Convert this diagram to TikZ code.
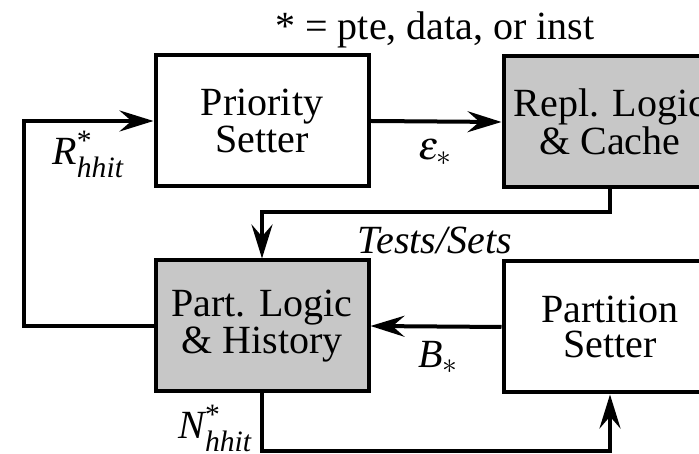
\documentclass[tikz,border=0pt]{standalone}
\usepackage{mathptmx}
\usepackage{amstext}
\usepackage{fontspec}
\setmainfont{Liberation Serif}
\usetikzlibrary{arrows.meta}
% italic text letters inside math, so that symbols share the serif face
\newcommand{\ti}[1]{\textit{#1}}
\begin{document}
\begin{tikzpicture}[x=1pt,y=1pt,
  blk/.style={draw, line width=4pt, minimum width=213pt, minimum height=131pt,
    inner sep=0pt, align=center, font=\rmfamily\fontsize{40}{35}\selectfont},
  shaded/.style={blk, fill=black!22},
  conn/.style={line width=4pt, -{Stealth[length=34pt,width=21pt,inset=12pt]}},
  lbl/.style={font=\rmfamily\fontsize{40}{40}\selectfont, inner sep=0pt}]
\useasboundingbox (0,0) rectangle (699,454);
\clip (0,0) rectangle (699,454);

% blocks
\node[blk]    (ps) at (262,333) {Priority\\Setter};
\node[shaded] (rc) at (610,332) {Repl. Logic\\\& Cache};
\node[shaded] (pl) at (262,128) {Part. Logic\\\& History};
\node[blk]    (pt) at (610,127) {Partition\\Setter};

% connectors
\draw[conn] (pl.west) -- ++(-130,0) |- (ps.west);
\draw[conn] (ps.east) -- (rc.west);
\draw[conn] (rc.south) -- ++(0,-23) -| (pl.north);
\draw[conn] (pt.west) -- (pl.east);
\draw[conn] (pl.south) -- ++(0,-58) -| (pt.south);

% labels
\node[lbl] (key) at (435,424) {* = pte, data, or inst};
\node[lbl] (rl) at (88,300) {$\ti{R}^{\text{*}}_{\ti{hhit}}$};
\node[lbl] (el) at (435,302) {$\varepsilon_{*}$};
\node[lbl] (tl) at (435,214) {\textit{Tests/Sets}};
\node[lbl] (bl) at (438,97) {$\ti{B}_{*}$};
\node[lbl] (nl) at (215,26) {$\ti{N}^{\text{*}}_{\ti{hhit}}$};
\end{tikzpicture}
\end{document}
